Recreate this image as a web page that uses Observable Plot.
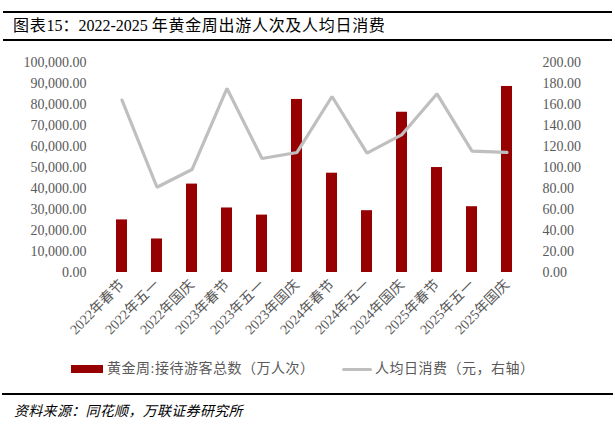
<!DOCTYPE html>
<html>
<head>
<meta charset="utf-8">
<script src="https://cdn.jsdelivr.net/npm/d3@7"></script>
<script src="https://cdn.jsdelivr.net/npm/@observablehq/plot@0.6"></script>
<style>
  body { margin: 0; background: #fff; }
  #wrap { position: relative; width: 615px; height: 433px; overflow: hidden; font-family: "Liberation Serif", "Noto Sans CJK SC", serif; }
  #title { position: absolute; left: 3px; top: 11px; width: 609px; height: 26px; border-top: 2px solid #000; border-bottom: 2px solid #000; font-size: 16px; line-height: 26px; color: #000; white-space: nowrap; }
  #title .t { position: absolute; left: 10px; top: 0; }
  #title .cjk { letter-spacing: 0.7px; }
  #chart { position: absolute; left: 0; top: 45px; }
  #legend { position: absolute; top: 360px; left: 0; width: 615px; height: 18px; font-size: 14px; color: #595959; font-family: "Liberation Serif", "Noto Sans CJK SC", serif; letter-spacing: 0.5px; }
  .item { position: absolute; top: 0; line-height: 18px; white-space: nowrap; }
  .sw { position: absolute; }
  #capline { position: absolute; left: 2px; top: 393px; width: 611px; border-top: 2px solid #000; }
  #caption { position: absolute; left: 14px; top: 401px; font-size: 14px; font-style: italic; line-height: 18px; color: #000; font-family: "Noto Sans CJK SC", sans-serif; letter-spacing: 0.3px; }
</style>
</head>
<body>
<div id="wrap">
  <div id="title"><span class="t"><span class="cjk">图表</span>15：2022-2025 <span class="cjk">年黄金周出游人次及人均日消费</span></span></div>
  <div id="chart"></div>
  <div id="legend"></div>
  <div id="capline"></div>
  <div id="caption">资料来源：同花顺，万联证券研究所</div>
</div>
<script>
const categories = ["2022年春节","2022年五一","2022年国庆","2023年春节","2023年五一","2023年国庆","2024年春节","2024年五一","2024年国庆","2025年春节","2025年五一","2025年国庆"];
const visitors = [25100, 16000, 42200, 30800, 27400, 82600, 47400, 29500, 76500, 50100, 31400, 88800];
const spending = [164.6, 81.4, 98.3, 175.7, 108.8, 114.6, 168.0, 113.9, 131.7, 170.6, 115.8, 114.6];
const leftTicks = [0,10000,20000,30000,40000,50000,60000,70000,80000,90000,100000];
const seriesNames = ["黄金周:接待游客总数（万人次）", "人均日消费（元，右轴）"];
const barColor = "#960000";
const lineColor = "#BFBFBF";
const ratio = 100000 / 200;

const barData = categories.map((c, i) => ({cat: c, v: visitors[i]}));
const lineData = categories.map((c, i) => ({cat: c, v: spending[i] * ratio}));

const fmt = d3.format(",.2f");
const chart = Plot.plot({
  width: 615,
  height: 307,
  marginTop: 17.5,
  marginBottom: 80,
  marginLeft: 99,
  marginRight: 86,
  style: { fontFamily: '"Liberation Serif", "Noto Sans CJK SC", serif', fontSize: "14px", color: "#595959", background: "transparent", overflow: "visible" },
  x: { domain: categories, paddingInner: 0.684, paddingOuter: 0.342, align: 0.5 },
  y: { domain: [0, 100000] },
  marks: [
    Plot.axisY({ anchor: "left", ticks: leftTicks, tickFormat: d => fmt(d), tickSize: 0, tickPadding: 13, label: null, fontSize: 14 }),
    Plot.axisY({ anchor: "right", ticks: leftTicks, tickFormat: d => (d / ratio).toFixed(2), tickSize: 0, tickPadding: 13, label: null, fontSize: 14 }),
    Plot.axisX({ tickRotate: -45, tickSize: 0, tickPadding: 10, label: null, fontSize: 14 }),
    Plot.barY(barData, { x: "cat", y: "v", fill: barColor }),
    Plot.line(lineData, { x: "cat", y: "v", stroke: lineColor, strokeWidth: 3.2, strokeLinejoin: "miter", strokeLinecap: "round" })
  ]
});
document.getElementById("chart").appendChild(chart);

const legend = document.getElementById("legend");
const items = [
  { left: 71, sw: { w: 32, h: 8, bg: barColor, top: 5 }, textLeft: 107, text: seriesNames[0] },
  { left: 342, sw: { w: 30, h: 3.5, bg: lineColor, top: 7.5, r: 2 }, textLeft: 375, text: seriesNames[1] }
];
items.forEach(it => {
  const s = document.createElement("div");
  s.className = "sw";
  s.style.left = it.left + "px";
  s.style.top = it.sw.top + "px";
  s.style.width = it.sw.w + "px";
  s.style.height = it.sw.h + "px";
  s.style.background = it.sw.bg;
  if (it.sw.r) s.style.borderRadius = it.sw.r + "px";
  legend.appendChild(s);
  const t = document.createElement("div");
  t.className = "item";
  t.style.left = it.textLeft + "px";
  t.textContent = it.text;
  legend.appendChild(t);
});
</script>
</body>
</html>
